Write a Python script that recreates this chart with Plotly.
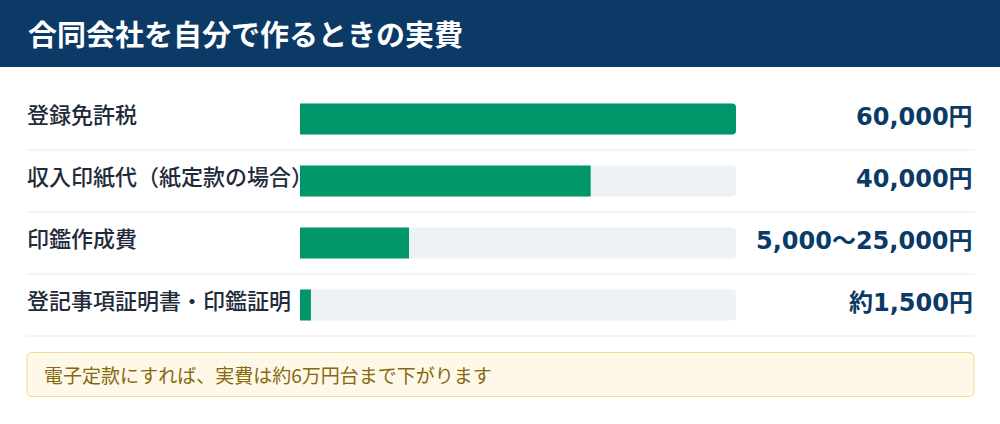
import plotly.graph_objects as go

title = "合同会社を自分で作るときの実費"
categories = ["登録免許税", "収入印紙代（紙定款の場合）", "印鑑作成費", "登記事項証明書・印鑑証明"]
values = [60000, 40000, 15000, 1500]
value_labels = ["60,000円", "40,000円", "5,000〜25,000円", "約1,500円"]
max_value = 60000
note = "電子定款にすれば、実費は約6万円台まで下がります"

W, H = 1000, 424
FONT = "Noto Sans CJK JP"
LABELFONT = "Noto Sans CJK JP Medium, Noto Sans CJK JP"
VALFONT = "DejaVu Sans, Noto Sans CJK JP"
NAVY = "#0b3a66"
GREEN = "#00966a"
TRACK = "#edf2f7"


def px(x):
    return x / W


def py(y):
    return 1 - y / H


fig = go.Figure()
fig.add_trace(go.Bar(
    y=categories, x=[max_value] * len(categories), orientation="h",
    marker=dict(color=TRACK, line=dict(width=0), cornerradius=4),
    width=0.5, hoverinfo="skip", showlegend=False,
))
fig.add_trace(go.Bar(
    y=categories, x=values, orientation="h",
    marker=dict(color=GREEN, line=dict(width=0), cornerradius=4),
    width=0.5, hoverinfo="skip", showlegend=False,
))

shapes = []
# header band
shapes.append(dict(type="rect", xref="paper", yref="paper", x0=0, x1=1,
                   y0=py(67), y1=1, fillcolor=NAVY, line=dict(width=0), layer="below"))
# separators
for yy in [150, 212, 274, 336]:
    shapes.append(dict(type="line", xref="paper", yref="paper", x0=px(27), x1=px(975),
                       y0=py(yy), y1=py(yy), line=dict(color="#e6ebf1", width=1)))
# note box with rounded corners
x0, x1, y0, y1, r = 27, 974, 352.5, 396.5, 5
path = (f"M {px(x0 + r)} {py(y0)} L {px(x1 - r)} {py(y0)} Q {px(x1)} {py(y0)} {px(x1)} {py(y0 + r)} "
        f"L {px(x1)} {py(y1 - r)} Q {px(x1)} {py(y1)} {px(x1 - r)} {py(y1)} "
        f"L {px(x0 + r)} {py(y1)} Q {px(x0)} {py(y1)} {px(x0)} {py(y1 - r)} "
        f"L {px(x0)} {py(y0 + r)} Q {px(x0)} {py(y0)} {px(x0 + r)} {py(y0)} Z")
shapes.append(dict(type="path", xref="paper", yref="paper", path=path,
                   fillcolor="#fef8e8", line=dict(color="#eedb95", width=1)))

annotations = []
annotations.append(dict(text=f"<b>{title}</b>", xref="paper", yref="paper", x=px(26), y=py(33),
                        xanchor="left", yanchor="middle", showarrow=False,
                        font=dict(family=FONT, size=29, color="white")))
for cat, lab in zip(categories, value_labels):
    annotations.append(dict(text=cat, xref="paper", yref="y", x=px(25), y=cat, yshift=6,
                            xanchor="left", yanchor="middle", showarrow=False,
                            font=dict(family=LABELFONT, size=22, color="#1f2b3a", weight=500)))
    annotations.append(dict(text=f"<b>{lab}</b>", xref="paper", yref="y", x=px(975), y=cat, yshift=2,
                            xanchor="right", yanchor="middle", showarrow=False,
                            font=dict(family=VALFONT, size=24, color=NAVY)))
annotations.append(dict(text=note, xref="paper", yref="paper", x=px(42), y=py(374),
                        xanchor="left", yanchor="middle", showarrow=False,
                        font=dict(family=FONT, size=19, color="#86690d")))

fig.update_layout(
    width=W, height=H, autosize=False,
    margin=dict(l=0, r=0, t=0, b=0),
    paper_bgcolor="white", plot_bgcolor="white",
    barmode="overlay",
    xaxis=dict(domain=[px(300), px(736)], range=[0, max_value], visible=False, fixedrange=True),
    yaxis=dict(domain=[py(336), py(88)], range=[3.5, -0.5], visible=False, fixedrange=True),
    shapes=shapes, annotations=annotations,
    showlegend=False,
)
fig.write_html("out.html", config={"displayModeBar": False},
               post_script="document.body.style.margin='0';document.body.style.padding='0';")
